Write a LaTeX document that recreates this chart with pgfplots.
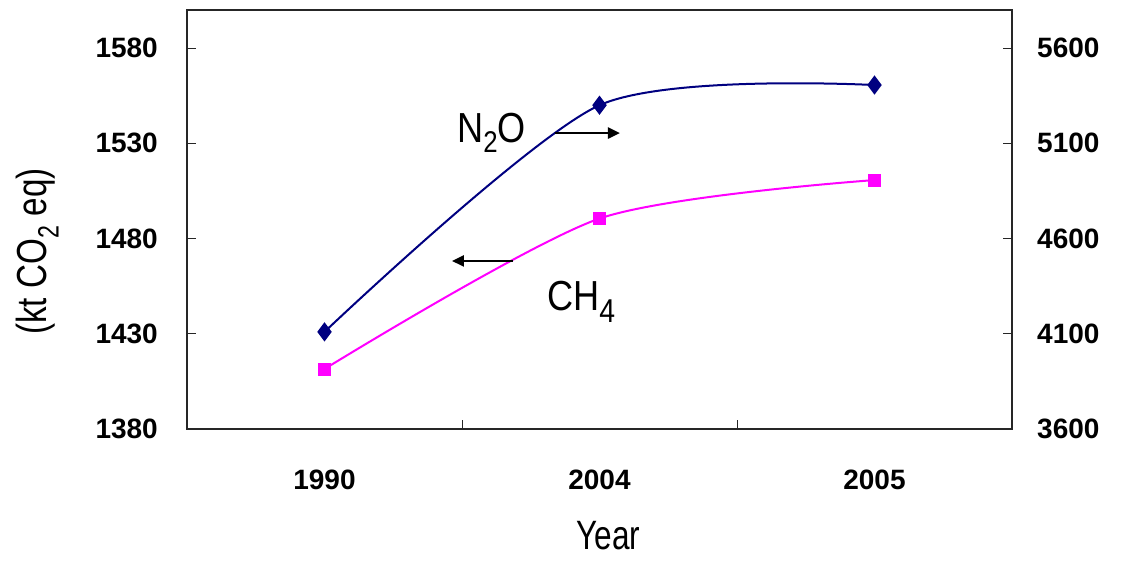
\documentclass[border=0pt]{standalone}
\usepackage{fontspec}
\setmainfont{Liberation Sans}
\usepackage{pgfplots}
\pgfplotsset{compat=1.18}
\usetikzlibrary{arrows.meta}
\definecolor{navyN}{RGB}{0,0,128}
\definecolor{magCH}{RGB}{255,0,255}
\begin{document}
\begin{tikzpicture}[x=1pt,y=1pt]
\path[use as bounding box] (0,0) rectangle (1125,560);
\pgfplotsset{common/.style={
  scale only axis, width=825pt, height=419pt,
  at={(187pt,131pt)}, anchor=south west,
  xmin=-0.5, xmax=2.5,
  clip=false,
  axis line style={line width=1.3pt, black!85},
  major tick length=9pt,
  tick style={line width=1pt, black!85},
  /pgf/number format/assume math mode=true,
  /pgf/number format/1000 sep={},
  ticklabel style={font=\fontsize{28}{30}\selectfont\bfseries, inner sep=0pt},
}}
\begin{axis}[common,
  ymin=1380, ymax=1600,
  ytick={1380,1430,...,1580},
  ytick pos=left,
  xtick={-0.5,0.5,1.5,2.5},
  xticklabels={1990,2004,2005},
  x tick label as interval,
  xtick pos=bottom,
  tick align=inside,
  xticklabel style={yshift=-41pt},
  yticklabel style={xshift=-29pt},
]
\addplot[magCH, line width=2pt, smooth, tension=0.45, mark=square*, mark size=5.5pt, mark options={solid}] coordinates {(0,1411.5)(1,1490.5)(2,1510.7)};
\node[rotate=90, inner sep=0pt, font=\fontsize{42}{44}\selectfont] at (axis description cs:-0.1812,0.4236) {\scalebox{0.79}[1]{(kt CO\textsubscript{2} eq)}};
\node[anchor=base, inner sep=0pt, font=\fontsize{41}{43}\selectfont] at (axis description cs:0.511,-0.2864) {\scalebox{0.77}[1]{Year}};
\end{axis}
\begin{axis}[common,
  ymin=3600, ymax=5800,
  ytick={3600,4100,...,5600},
  axis y line*=right,
  axis x line=none,
  tick align=inside,
  yticklabel style={xshift=25pt},
]
\addplot[navyN, line width=2pt, smooth, tension=0.45, mark=diamond*, mark size=8pt, mark options={solid}] coordinates {(0,4110)(1,5300)(2,5406)};
\node[anchor=base west, inner sep=0pt, font=\fontsize{42}{44}\selectfont] at (axis description cs:0.3273,0.6826) {\scalebox{0.86}[1]{N\raisebox{-10pt}{\fontsize{30}{30}\selectfont 2}O}};
\node[anchor=base west, inner sep=0pt, font=\fontsize{42}{44}\selectfont] at (axis description cs:0.4364,0.2840) {\scalebox{0.86}[1]{CH\raisebox{-12pt}{\fontsize{33}{33}\selectfont 4}}};
\draw[line width=2.5pt, -{Triangle[length=12pt,width=11pt]}] (axis description cs:0.4461,0.7064) -- (axis description cs:0.5248,0.7064);
\draw[line width=2.5pt, -{Triangle[length=12pt,width=11pt]}] (axis description cs:0.3952,0.4010) -- (axis description cs:0.3212,0.4010);
\end{axis}
\end{tikzpicture}
\end{document}
